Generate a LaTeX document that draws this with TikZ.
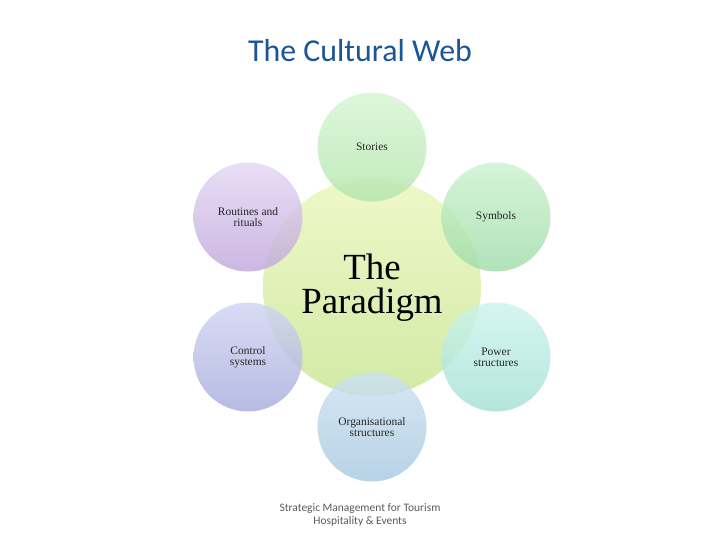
\documentclass[tikz,border=0pt]{standalone}
\usepackage{fontspec}
\setmainfont{Liberation Serif}
\newfontfamily\calib{Carlito}
\definecolor{titleblue}{HTML}{1B5597}
\definecolor{footgray}{HTML}{5A5A5A}
\definecolor{coreT}{HTML}{EEF8C8}
\definecolor{coreB}{HTML}{D2EAA6}
\definecolor{storT}{HTML}{D6F6D2}
\definecolor{storB}{HTML}{B4E4AE}
\definecolor{symbT}{HTML}{CCF2D0}
\definecolor{symbB}{HTML}{A0DCA8}
\definecolor{powT}{HTML}{CCF4EE}
\definecolor{powB}{HTML}{A4E0D4}
\definecolor{orgT}{HTML}{CCE2F2}
\definecolor{orgB}{HTML}{A8C8E0}
\definecolor{conT}{HTML}{D0D4F2}
\definecolor{conB}{HTML}{A8ACDC}
\definecolor{rouT}{HTML}{E4D6F4}
\definecolor{rouB}{HTML}{C0A8DC}
\tikzset{
  outer/.style 2 args={circle, minimum size=109bp, inner sep=0pt, top color=#1, bottom color=#2,
    fill opacity=0.82, text opacity=1, font=\fontsize{11.5}{11}\selectfont, align=center, text=black!85},
  corecircle/.style={circle, minimum size=218bp, inner sep=0pt, top color=coreT, bottom color=coreB}
}
\begin{document}
\begin{tikzpicture}[x=1bp,y=-1bp]
\useasboundingbox (0,0) rectangle (720,540);
\node[font=\calib\fontsize{32}{34}\selectfont, text=titleblue] (title) at (360,51) {The Cultural Web};
\node[corecircle] (core) at (372,287) {};
\node[outer={storT}{storB}] (stories) at (372,147) {Stories};
\node[outer={symbT}{symbB}] (symbols) at (496,217) {Symbols};
\node[outer={powT}{powB}] (power) at (496,357) {Power\\structures};
\node[outer={orgT}{orgB}] (org) at (372,427) {Organisational\\structures};
\node[outer={conT}{conB}] (control) at (248,357) {Control\\systems};
\node[outer={rouT}{rouB}] (routines) at (248,217) {Routines and\\rituals};
\node[font=\fontsize{37}{34}\selectfont, align=center] (pt) at (372,288) {The\\Paradigm};
\node[font=\calib\fontsize{11.5}{13}\selectfont, text=footgray, align=center] (foot) at (360,515) {Strategic Management for Tourism\\Hospitality \& Events};
\end{tikzpicture}
\end{document}
